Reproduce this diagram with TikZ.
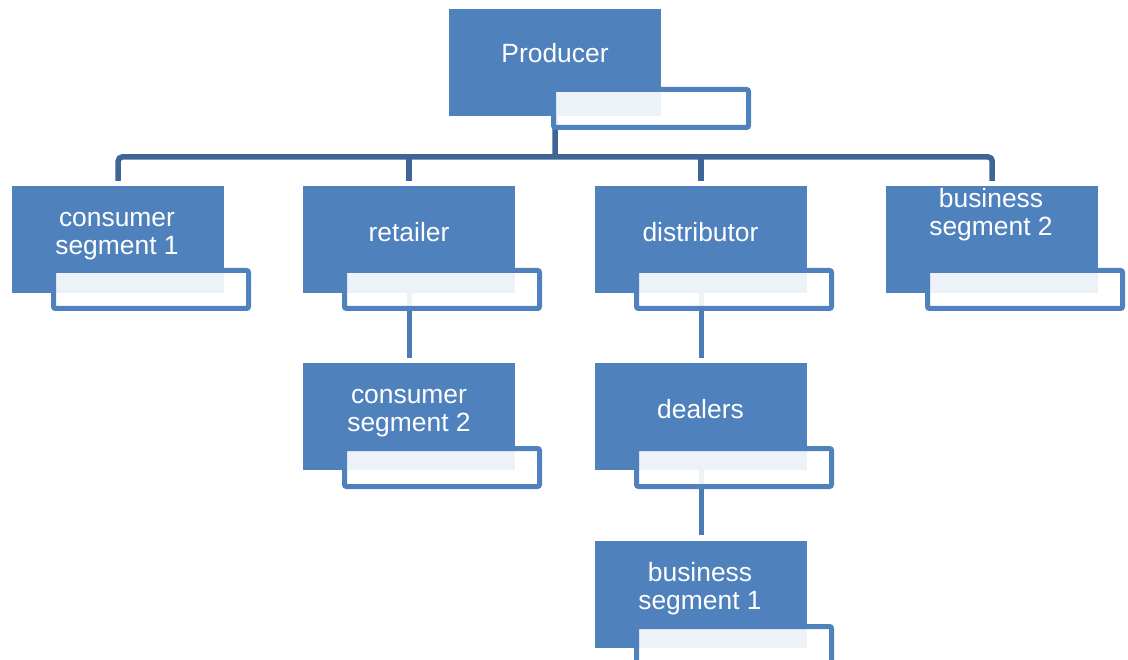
\documentclass[tikz,border=0pt]{standalone}
\usepackage{fontspec}
\setmainfont{Liberation Sans}
\usepackage{tikz}

\definecolor{boxblue}{HTML}{4F81BD}
\definecolor{busblue}{RGB}{62,101,150}

\begin{document}
\begin{tikzpicture}
            [x=1pt,y=-1pt,
             mainbox/.style={rectangle,fill=boxblue,inner sep=0,minimum width=212pt,minimum height=107pt,anchor=north west},
             tagbox/.style={rectangle,draw=boxblue,line width=5pt,rounded corners=2pt,fill=white,fill opacity=.9,draw opacity=1,minimum width=195pt,minimum height=38pt,anchor=north west},
             boxtext/.style={text=white,align=center,inner sep=0,font=\fontsize{26.4}{28}\selectfont},
             bus/.style={draw=busblue,line width=5.5pt,rounded corners=4pt},
             link/.style={draw=boxblue!95!black,line width=5pt}]
            \useasboundingbox (0,0) rectangle (1128,660);

            % boxes
            \node[mainbox] (prod) at (449,9) {};
            \node[mainbox] (cs1) at (12,186) {};
            \node[mainbox] (ret) at (303,186) {};
            \node[mainbox] (dist) at (595,186) {};
            \node[mainbox] (bs2) at (886,186) {};
            \node[mainbox] (cs2) at (303,363) {};
            \node[mainbox] (deal) at (595,363) {};
            \node[mainbox] (bs1) at (595,541) {};

            % connectors
            \coordinate (bus) at (555,157);
            \path [bus] ([yshift=5pt]cs1.north) |- (bus) -| ([yshift=5pt]bs2.north);
            \path [bus] (prod.south) -- (bus);
            \path [bus] (bus -| ret.north) -- ([yshift=5pt]ret.north);
            \path [bus] (bus -| dist.north) -- ([yshift=5pt]dist.north);
            \path [link] (ret.south) -- ([yshift=5pt]cs2.north);
            \path [link] (dist.south) -- ([yshift=5pt]deal.north);
            \path [link] (deal.south) -- ([yshift=6pt]bs1.north);

            % tags
            \node[tagbox] (prod-t) at (551,87) {};
            \node[tagbox] (cs1-t) at (51,268) {};
            \node[tagbox] (ret-t) at (342,268) {};
            \node[tagbox] (dist-t) at (634,268) {};
            \node[tagbox] (bs2-t) at (925,268) {};
            \node[tagbox] (cs2-t) at (342,446) {};
            \node[tagbox] (deal-t) at (634,446) {};
            \node[tagbox] (bs1-t) at (634,624) {};

            % texts
            \node[boxtext] (prod-l) at (555,53.5) {Producer};
            \node[boxtext] (cs1-l) at (117,236.5) {consumer\\segment 1};
            \node[boxtext] (ret-l) at (409,232) {retailer};
            \node[boxtext] (dist-l) at (700.5,232) {distributor};
            \node[boxtext] (bs2-l) at (991,215) {business\\segment 2};
            \node[boxtext] (cs2-l) at (409,413) {consumer\\segment 2};
            \node[boxtext] (deal-l) at (700.5,409) {dealers};
            \node[boxtext] (bs1-l) at (700,589) {business\\segment 1};
        \end{tikzpicture}
\end{document}
